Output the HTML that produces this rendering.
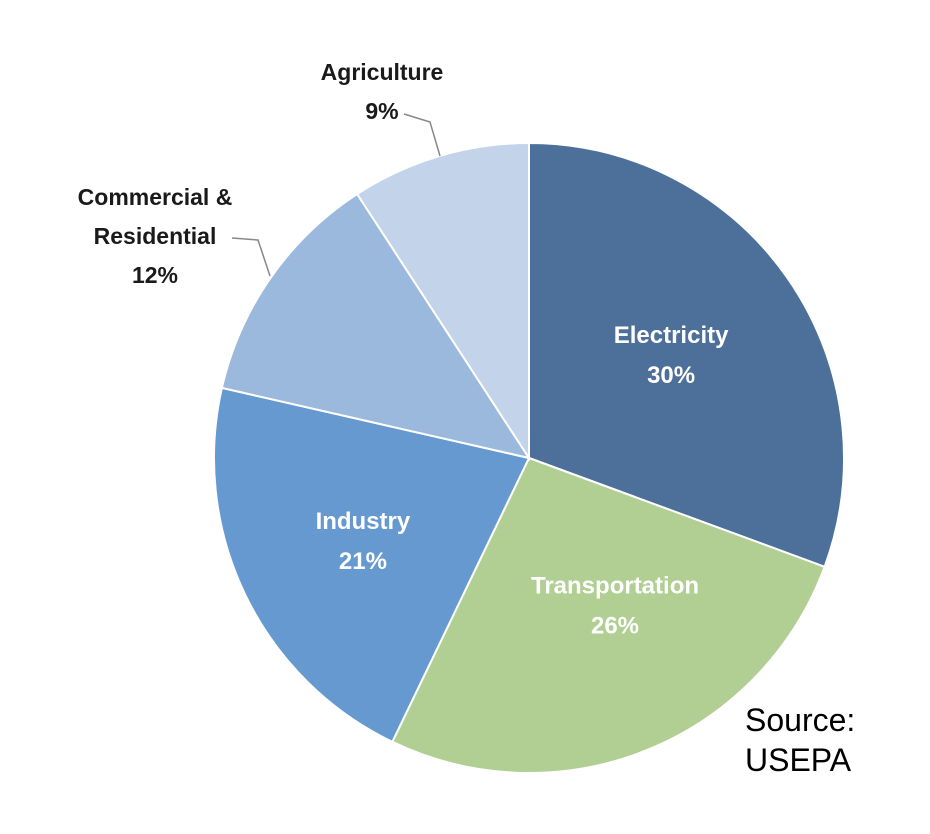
<!DOCTYPE html>
<html><head><meta charset="utf-8"><style>
html,body{margin:0;padding:0;background:#fff;}
svg{display:block;font-family:"Liberation Sans",Arial,sans-serif;}
</style></head><body>
<svg id="chart" width="930" height="834" viewBox="0 0 930 834">
<g id="slices"></g>
<g id="labels"></g>
<polyline points="404,114 430,122 440,156" fill="none" stroke="#888" stroke-width="1.5"/>
<polyline points="232,238 258,240 270,276" fill="none" stroke="#888" stroke-width="1.5"/>
<text x="745" y="731" font-size="32" fill="#000">Source:</text>
<text x="745" y="771" font-size="32" fill="#000">USEPA</text>
</svg>
<script>
const categories = ["Electricity","Transportation","Industry","Commercial & Residential","Agriculture"];
const values = [30,26,21,12,9];
const colors = ["#4c7099","#b1cf93","#6699cf","#9bb8dd","#c3d3ea"];
const inside = [true,true,true,false,false];
const cx=529, cy=458, r=315;
const labelFactor=[0.55,0.55,0.55,0,0];
const labelShift=[[0,-4],[21,-13],[-10,8],[0,0],[0,0]];
const ns="http://www.w3.org/2000/svg";
const total = values.reduce((a,b)=>a+b,0);
function pt(a,rr){return [cx+rr*Math.sin(a), cy-rr*Math.cos(a)];}
const sg=document.getElementById('slices'), lg=document.getElementById('labels');
let acc=0;
values.forEach((v,i)=>{
  const a0=acc/total*2*Math.PI; acc+=v; const a1=acc/total*2*Math.PI;
  const p0=pt(a0,r), p1=pt(a1,r);
  const large=(a1-a0)>Math.PI?1:0;
  const p=document.createElementNS(ns,'path');
  p.setAttribute('d',`M${cx},${cy} L${p0[0]},${p0[1]} A${r},${r} 0 ${large} 1 ${p1[0]},${p1[1]} Z`);
  p.setAttribute('fill',colors[i]); p.setAttribute('stroke','#fff'); p.setAttribute('stroke-width','2');
  
  
  sg.appendChild(p);
  const pct=v+'%';
  if(inside[i]){
    const m=pt((a0+a1)/2, r*labelFactor[i]);
    [categories[i],pct].forEach((s,k)=>{
      const t=document.createElementNS(ns,'text');
      t.setAttribute('x',m[0]+labelShift[i][0]); t.setAttribute('y',m[1]-12+labelShift[i][1]+k*40);
      t.setAttribute('text-anchor','middle'); t.setAttribute('font-size','24');
      t.setAttribute('font-weight','bold'); t.setAttribute('fill','#fff');
      t.textContent=s;
      
      
      lg.appendChild(t);
    });
  } else {
    const lines = i===3 ? ["Commercial &","Residential",pct] : [categories[i],pct];
    const x = i===3 ? 155 : 382;
    const y0 = i===3 ? 205 : 80;
    lines.forEach((s,k)=>{
      const t=document.createElementNS(ns,'text');
      t.setAttribute('x',x); t.setAttribute('y',y0+k*39);
      t.setAttribute('text-anchor','middle'); t.setAttribute('font-size','23');
      t.setAttribute('font-weight','bold'); t.setAttribute('fill','#1a1a1a');
      t.textContent=s;
      
      
      lg.appendChild(t);
    });
  }
});
</script>
</body></html>
